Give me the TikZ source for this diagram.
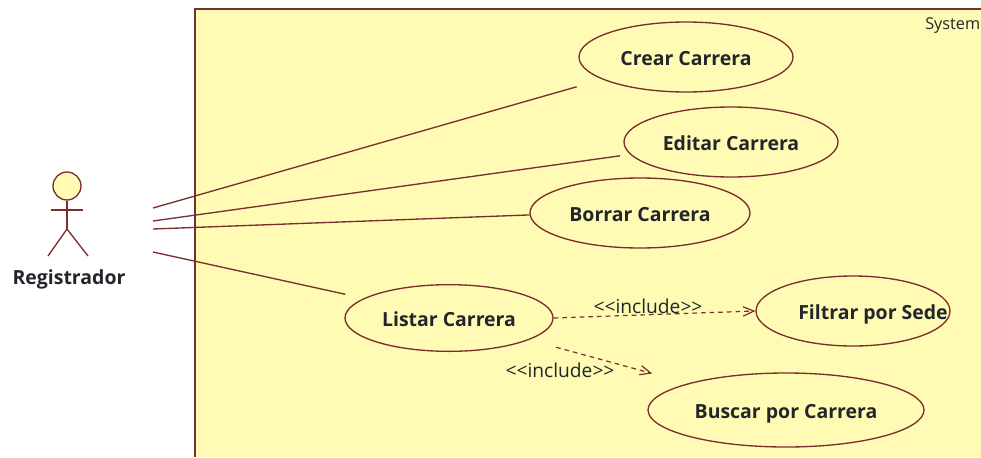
\documentclass[tikz,border=0pt]{standalone}
\usepackage{fontspec}
\setmainfont{Open Sans}
\usetikzlibrary{arrows.meta, shapes.geometric}

\definecolor{umlline}{HTML}{7A2E2E}
\definecolor{umlfill}{HTML}{FFFBB4}
\definecolor{umltext}{HTML}{22262B}

\tikzset{
	usecase/.style={ellipse, draw=umlline, fill=umlfill, line width=1pt, inner sep=-30pt, text height=14pt, text depth=2pt, text=umltext, font=\fontsize{14.6}{16}\selectfont\bfseries},
	assoc/.style={draw=umlline, line width=1pt},
	includeedge/.style={draw=umlline, line width=0.9pt, dashed, dash pattern=on 3.5pt off 3pt, arrows={-Straight Barb[length=8pt,width=7pt]}},
	includelabel/.style={text=umltext, inner sep=0pt, font=\fontsize{14.4}{16}\selectfont},
}

\begin{document}
\begin{tikzpicture}[x=0.75pt, y=-0.75pt]
	\useasboundingbox (0,0) rectangle (981,457);
	\fill [umlfill] (195,9) rectangle (981,457);
	\draw [assoc] (981,9) -- (195,9) -- (195,457);
	\node [anchor=west, inner sep=0pt, text=umltext, font=\fontsize{12.2}{15}\selectfont] (system) at (925,26) {System};

	\node [usecase, minimum width=160.5pt, minimum height=52.5pt] (crear) at (686,57) {Crear Carrera};
	\node [usecase, minimum width=160.5pt, minimum height=52.5pt] (editar) at (731,142) {Editar Carrera};
	\node [usecase, minimum width=165pt, minimum height=52.5pt] (borrar) at (640,213) {Borrar Carrera};
	\node [usecase, minimum width=156pt, minimum height=50pt] (listar) at (449,318) {Listar Carrera};
	\node [usecase, minimum width=145.5pt, minimum height=52.5pt] (filtrar) at (853,311) {\hspace{30pt}Filtrar por Sede};
	\node [usecase, minimum width=207pt, minimum height=55.5pt] (buscar) at (786,410) {Buscar por Carrera};

	\coordinate (A1) at (153,208);
	\coordinate (A2) at (153,221);
	\coordinate (A3) at (153,229);
	\coordinate (A4) at (153,252);

	\draw [assoc, shorten >=20pt] (A1) -- (crear.195.5);
	\draw [assoc, shorten >=7.5pt] (A2) -- (editar.187.4);
	\draw [assoc] (A3) -- (borrar.181);
	\draw [assoc, shorten >=14pt] (A4) -- (listar.167);

	\draw [includeedge] (listar.east) -- (filtrar.west);
	\draw [includeedge, shorten <=21pt, shorten >=28pt] (listar) -- (buscar);
	\node [includelabel] (inc1) at (648,306) {{<}{<}include{>}{>}};
	\node [includelabel] (inc2) at (560,370) {{<}{<}include{>}{>}};

	\node [circle, draw=umlline, fill=umlfill, line width=1pt, minimum size=21pt, inner sep=0pt] (head) at (67,186) {};
	\coordinate (hip) at (67,229);
	\draw [assoc] (head) -- (hip);
	\draw [assoc] (51,210) -- (83,210);
	\draw [assoc] (48,256) -- (hip) -- (88,256);
	\node [text=umltext, inner sep=0pt, font=\fontsize{14.6}{16}\selectfont\bfseries] (registrador) at (69,279) {Registrador};
\end{tikzpicture}
\end{document}
